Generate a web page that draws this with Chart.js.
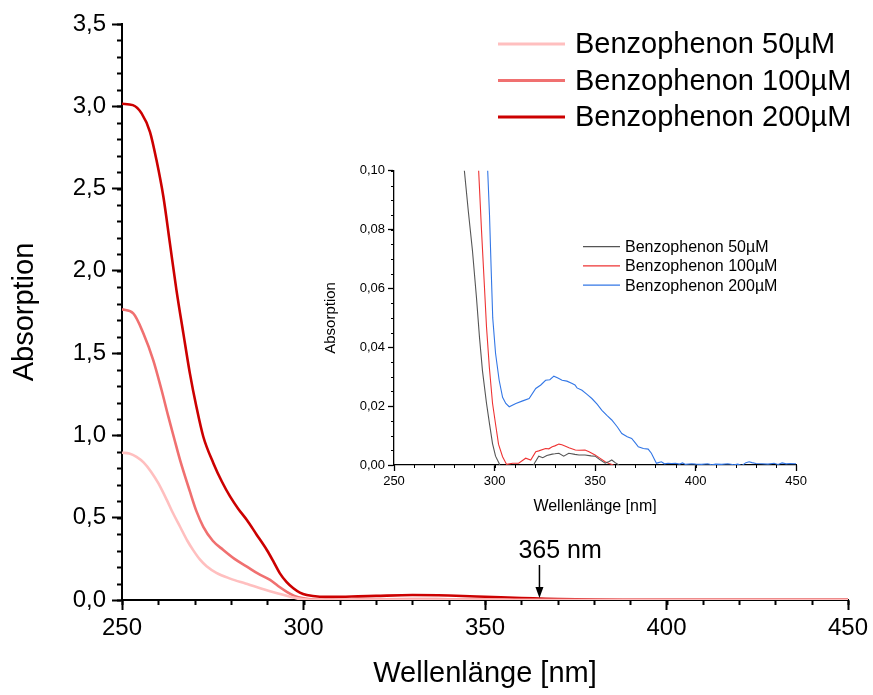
<!DOCTYPE html>
<html>
<head>
<meta charset="utf-8">
<script src="https://cdn.jsdelivr.net/npm/chart.js@4.4.1/dist/chart.umd.min.js"></script>
<style>
  body { margin: 0; background: #fff; }
  #wrap { position: relative; width: 873px; height: 695px; }
  #main { position: absolute; left: 0; top: 0; }
  #inset { position: absolute; left: 320px; top: 160px; }
</style>
</head>
<body>
<div id="wrap">
  <canvas id="main" width="873" height="695"></canvas>
  <canvas id="inset" width="490" height="360"></canvas>
</div>
<script>
// main spectra (full range)
const seriesLabels = ['Benzophenon 50µM', 'Benzophenon 100µM', 'Benzophenon 200µM'];

const wl50 = [250,252,254,256,258,260,262.3,264,266,268,269.7,271.5,273.3,276,279.8,284,289,293,298.2,301,305,320,330,350,360,450];
const abs50 = [0.895,0.89,0.87,0.835,0.78,0.71,0.61,0.53,0.445,0.36,0.30,0.245,0.205,0.165,0.13,0.10,0.065,0.04,0.01,0.002,0,0.002,0.003,0.003,0,0];

const wl100 = [250,253.1,255.9,258.6,260.9,262.7,264.4,266,268.7,270.5,272.4,275,277.9,281,284.4,287.5,290.8,293,295.4,297.5,300,303,305,310,320,330,340,350,360,380,450];
const abs100 = [1.766,1.742,1.62,1.458,1.276,1.12,0.98,0.85,0.66,0.54,0.445,0.36,0.304,0.25,0.203,0.16,0.122,0.085,0.05,0.025,0.01,0.002,0.001,0.001,0.004,0.006,0.005,0.004,0.001,0,0];

const wl200 = [250,253,255.4,257.7,259.5,261.4,263.2,265,266.9,268.7,270.5,272.4,275.2,277.5,279.8,282,284.4,287,289.9,291.7,293.5,295.3,297.2,299,300.9,304.5,308,315,320,330,340,350,360,365,370,380,390,400,420,450];
const abs200 = [3.015,3.007,2.957,2.845,2.673,2.45,2.167,1.883,1.62,1.377,1.174,0.992,0.83,0.72,0.628,0.555,0.486,0.40,0.304,0.235,0.162,0.11,0.071,0.045,0.03,0.02,0.019,0.022,0.025,0.030,0.027,0.020,0.012,0.009,0.006,0.002,0.001,0.001,0.001,0.001];

// inset: zoom on the weak band
const inWl50 = [284,285,287,289,291,292.5,294,296,297.5,299,300.5,302.3,303,305,310,318.8,320,322,324,326,328.7,330,332,334.4,336.9,340,342,345,348,350,352,355,357,358.3,360,361.6,363,365];
const inAbs50 = [0.11,0.10,0.086,0.073,0.057,0.0435,0.032,0.021,0.014,0.0073,0.003,0.0005,-0.001,-0.003,-0.003,-0.001,0.0008,0.003,0.0025,0.0032,0.0037,0.0038,0.004,0.003,0.004,0.0036,0.0034,0.0034,0.0031,0.003,0.002,0.0006,0.0012,0.0017,0.0008,0.0001,-0.001,-0.003];

const inWl100 = [291,292.1,293.5,294.9,296,297.4,299,300.7,302,304,306,309,312,315.5,318,320.5,322,325.4,327,328.7,330,332,333.5,335.3,337,340.2,342,345,347,350,352,355,357,359,361];
const inAbs100 = [0.112,0.10,0.08,0.0616,0.047,0.0333,0.021,0.013,0.007,0.0028,0.0002,0.0006,0.0006,0.0023,0.0017,0.0045,0.0048,0.0056,0.0055,0.0062,0.0065,0.0071,0.0069,0.0064,0.0059,0.0051,0.005,0.0051,0.0045,0.0034,0.0025,0.0011,0.0005,0,-0.002];

const inWl200 = [296,296.6,297.5,298.3,299.1,300.5,302.3,304,305.6,307.3,310.6,314,317.2,320.5,323,325.4,327.5,329.5,331.5,333.6,336,338.6,340,341,343.5,346,348.4,351,353.4,356,358.3,361,363.3,366,368.2,370,371.5,374,376.4,378,380.5,381.5,383,384.5,386.3,388,390,392,393.5,395,398,400,403,406,408,410,413,416,419,421,423,425,426.6,428,430,433,436,439,441,443,445,447,450];
const inAbs200 = [0.11,0.10,0.085,0.067,0.050,0.038,0.0288,0.023,0.0209,0.0198,0.0209,0.0218,0.0226,0.026,0.0272,0.0288,0.029,0.0302,0.0296,0.0288,0.0285,0.0277,0.0272,0.0262,0.0254,0.024,0.0226,0.0207,0.0186,0.0168,0.0153,0.013,0.0107,0.0096,0.009,0.0075,0.0062,0.0056,0.0054,0.004,0.0006,0.0008,0.0011,0.0004,0.0006,0.0005,0.0006,0.0003,0.0007,0.0002,0.0004,0.0003,0.0002,0.0004,0.0001,0.0003,0.0002,0.0004,0.0001,0.0003,-0.0002,0.0008,0.0011,0.0008,0.0005,0.0004,0.0003,0.0006,0.0002,0.0007,0.0004,0.0005,0.0004];

const mainColors = ['#ffbfbf', '#f07070', '#cc0000'];
const insetColors = ['#555555', '#ee3333', '#3377e6'];

const FONT = "'Liberation Sans', Arial, Helvetica, sans-serif";

function pts(xs, ys) {
  return xs.map((x, i) => ({ x: x, y: ys[i] }));
}

// small ticks between the labelled ones
const minorTicks = {
  id: 'minorTicks',
  afterDraw(chart, args, opts) {
    const ctx = chart.ctx;
    const xs = chart.scales.x, ys = chart.scales.y;
    ctx.save();
    ctx.strokeStyle = '#000';
    ctx.lineWidth = opts.width;
    ctx.beginPath();
    for (let v = xs.min; v <= xs.max + 1e-9; v += opts.xStep) {
      const px = Math.round(xs.getPixelForValue(v)) + 0.5;
      ctx.moveTo(px, ys.bottom);
      ctx.lineTo(px, ys.bottom + opts.len);
    }
    for (let v = ys.min; v <= ys.max + 1e-9; v += opts.yStep) {
      const py = Math.round(ys.getPixelForValue(v)) + 0.5;
      ctx.moveTo(xs.left, py);
      ctx.lineTo(xs.left - opts.len, py);
    }
    ctx.stroke();
    ctx.restore();
  }
};

// line-swatch legend at a fixed spot
const lineLegend = {
  id: 'lineLegend',
  afterDraw(chart, args, opts) {
    const ctx = chart.ctx;
    ctx.save();
    ctx.font = opts.font;
    ctx.textBaseline = 'middle';
    ctx.fillStyle = '#000';
    chart.data.datasets.forEach((ds, i) => {
      const y = opts.y0 + i * opts.dy;
      ctx.strokeStyle = ds.borderColor;
      ctx.lineWidth = opts.lineWidth;
      ctx.beginPath();
      ctx.moveTo(opts.x0, y);
      ctx.lineTo(opts.x1, y);
      ctx.stroke();
      ctx.fillText(ds.label, opts.textX, y + 1);
    });
    ctx.restore();
  }
};

// 365 nm marker
const marker = {
  id: 'marker',
  afterDraw(chart, args, opts) {
    if (!opts.value) return;
    const ctx = chart.ctx;
    const x = chart.scales.x.getPixelForValue(opts.value);
    const tip = chart.scales.y.getPixelForValue(opts.at);
    ctx.save();
    ctx.strokeStyle = '#000';
    ctx.fillStyle = '#000';
    ctx.lineWidth = 1.5;
    ctx.beginPath();
    ctx.moveTo(x, tip - 33);
    ctx.lineTo(x, tip - 8);
    ctx.stroke();
    ctx.beginPath();
    ctx.moveTo(x - 4, tip - 11);
    ctx.lineTo(x + 4, tip - 11);
    ctx.lineTo(x, tip);
    ctx.closePath();
    ctx.fill();
    ctx.font = '25px ' + FONT;
    ctx.textBaseline = 'alphabetic';
    ctx.fillText(opts.text, x - 21, tip - 40);
    ctx.restore();
  }
};

function commaFmt(dec) {
  return v => v.toFixed(dec).replace('.', ',');
}

function axisOpts(o) {
  return {
    type: 'linear',
    min: o.min, max: o.max,
    border: { display: true, color: '#000', width: o.bw },
    grid: { drawOnChartArea: false, drawTicks: true, tickLength: o.tick, tickWidth: o.bw, tickColor: '#000' },
    ticks: { stepSize: o.step, color: '#000', font: { family: FONT, size: o.font }, padding: o.pad, maxRotation: 0, autoSkip: false, callback: o.cb },
    title: { display: true, text: o.title, color: '#000', font: { family: FONT, size: o.titleSize }, padding: o.titlePad },
    afterFit: o.fit
  };
}

new Chart(document.getElementById('main'), {
  type: 'line',
  data: {
    datasets: [
      { label: seriesLabels[0], data: pts(wl50, abs50), borderColor: mainColors[0] },
      { label: seriesLabels[1], data: pts(wl100, abs100), borderColor: mainColors[1] },
      { label: seriesLabels[2], data: pts(wl200, abs200), borderColor: mainColors[2] }
    ]
  },
  options: {
    responsive: false,
    animation: false,
    devicePixelRatio: 1,
    layout: { padding: { top: 24, right: 25, left: 0, bottom: 0 } },
    elements: {
      line: { borderWidth: 2.6, tension: 0.4, cubicInterpolationMode: 'monotone' },
      point: { radius: 0 }
    },
    plugins: {
      legend: { display: false },
      tooltip: { enabled: false },
      minorTicks: { xStep: 10, yStep: 0.1, len: 5, width: 2 },
      lineLegend: { x0: 498, x1: 565, textX: 575, y0: 44, dy: 36.5, font: '29px ' + FONT, lineWidth: 3 },
      marker: { value: 365, at: 0.012, text: '365 nm' }
    },
    scales: {
      x: axisOpts({ min: 250, max: 450, step: 50, bw: 2, tick: 10, font: 24, pad: 4, title: 'Wellenlänge [nm]', titleSize: 29, titlePad: { top: 4, bottom: 4 },
        cb: v => v, fit: s => { s.height = 95; } }),
      y: axisOpts({ min: 0, max: 3.5, step: 0.5, bw: 2, tick: 10, font: 24, pad: 6, title: 'Absorption', titleSize: 29, titlePad: { top: 8, bottom: 4 },
        cb: commaFmt(1), fit: s => { s.width = 122; } })
    }
  },
  plugins: [minorTicks, lineLegend, marker]
});

new Chart(document.getElementById('inset'), {
  type: 'line',
  data: {
    datasets: [
      { label: seriesLabels[0], data: pts(inWl50, inAbs50), borderColor: insetColors[0] },
      { label: seriesLabels[1], data: pts(inWl100, inAbs100), borderColor: insetColors[1] },
      { label: seriesLabels[2], data: pts(inWl200, inAbs200), borderColor: insetColors[2] }
    ]
  },
  options: {
    responsive: false,
    animation: false,
    devicePixelRatio: 1,
    layout: { padding: { top: 10, right: 11, left: 0, bottom: 0 } },
    elements: {
      line: { borderWidth: 1.1, tension: 0 },
      point: { radius: 0 }
    },
    plugins: {
      legend: { display: false },
      tooltip: { enabled: false },
      minorTicks: { xStep: 10, yStep: 0.005, len: 3, width: 1 },
      lineLegend: { x0: 263, x1: 300, textX: 305, y0: 86.7, dy: 19.2, font: '16px ' + FONT, lineWidth: 1.3 },
      marker: { value: 0 }
    },
    scales: {
      x: axisOpts({ min: 250, max: 450, step: 50, bw: 1.3, tick: 6, font: 13, pad: 3, title: 'Wellenlänge [nm]', titleSize: 16, titlePad: { top: 2, bottom: 4 },
        cb: v => v, fit: s => { s.height = 55; } }),
      y: axisOpts({ min: 0, max: 0.1, step: 0.02, bw: 1.3, tick: 6, font: 13, pad: 3, title: 'Absorption', titleSize: 15, titlePad: { top: 2, bottom: 2 },
        cb: commaFmt(2), fit: s => { s.width = 74; } })
    }
  },
  plugins: [minorTicks, lineLegend, marker]
});
</script>
</body>
</html>
